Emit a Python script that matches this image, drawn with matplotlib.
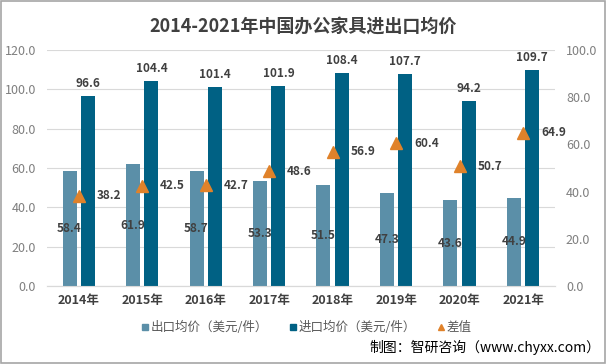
import numpy as np
import matplotlib.pyplot as plt
from matplotlib.patches import Rectangle
from matplotlib.lines import Line2D

plt.rcParams['font.family'] = ['Noto Sans CJK SC', 'DejaVu Sans']

years = ['2014年', '2015年', '2016年', '2017年', '2018年', '2019年', '2020年', '2021年']
export_price = [58.4, 61.9, 58.7, 53.3, 51.5, 47.3, 43.6, 44.9]
import_price = [96.6, 104.4, 101.4, 101.9, 108.4, 107.7, 94.2, 109.7]
diff = [38.2, 42.5, 42.7, 48.6, 56.9, 60.4, 50.7, 64.9]

c_exp = '#5b8fa8'
c_imp = '#006184'
c_diff = '#e0822a'
txt = '#404040'
tick_c = '#7f7f7f'

fig = plt.figure(figsize=(6.06, 3.64), dpi=100)
ax = fig.add_axes([0.0776, 0.2143, 0.838, 0.6483])
ax2 = ax.twinx()

x = np.arange(len(years))
w = 0.22
off = 0.145
ax.bar(x - off, export_price, w, color=c_exp, zorder=3)
ax.bar(x + off, import_price, w, color=c_imp, zorder=3)
ax2.plot(x, diff, linestyle='none', marker='^', markersize=9, color=c_diff, zorder=4)

for xi, v in zip(x, export_price):
    ax.text(xi - off, v / 2, f'{v:.1f}', ha='center', va='center', fontsize=8.5,
            color=txt, fontweight='bold', zorder=5)
for xi, v in zip(x, import_price):
    ax.text(xi + off, v + 3, f'{v:.1f}', ha='center', va='bottom', fontsize=8.5,
            color=txt, fontweight='bold', zorder=5)
for xi, v in zip(x, diff):
    ax2.text(xi + 0.28, v, f'{v:.1f}', ha='left', va='center', fontsize=8.5,
             color=txt, fontweight='bold', zorder=5)

ax.set_xlim(-0.5, len(years) - 0.5)
ax.set_ylim(0, 120)
ax.set_yticks(np.arange(0, 121, 20))
ax.set_yticklabels([f'{t:.1f}' for t in np.arange(0, 121, 20)])
ax2.set_ylim(0, 100)
ax2.set_yticks(np.arange(0, 101, 20))
ax2.set_yticklabels([f'{t:.1f}' for t in np.arange(0, 101, 20)])
ax.set_xticks(x)
ax.set_xticklabels(years, fontsize=9, color=txt, fontweight='bold')

ax.grid(axis='y', color='#d9d9d9', linewidth=0.8, zorder=0)
for a in (ax, ax2):
    for s in ('top', 'left', 'right'):
        a.spines[s].set_visible(False)
    a.spines['bottom'].set_color('#d9d9d9')
    a.tick_params(length=0, labelsize=9, labelcolor=tick_c)
ax.tick_params(axis='x', pad=6, labelcolor=txt)
ax.tick_params(axis='y', pad=8)
ax2.tick_params(axis='y', pad=8)

fig.text(0.5, 0.925, '2014-2021年中国办公家具进出口均价', ha='center', va='center',
         fontsize=13, fontweight='bold', color=txt)

handles = [
    Line2D([], [], linestyle='none', marker='s', markersize=5, color=c_exp),
    Line2D([], [], linestyle='none', marker='s', markersize=5, color=c_imp),
    Line2D([], [], linestyle='none', marker='^', markersize=5, color=c_diff),
]
labels = ['出口均价（美元/件）', '进口均价（美元/件）', '差值']
fig.legend(handles, labels, loc='center', bbox_to_anchor=(0.505, 0.1), ncol=3,
           frameon=False, fontsize=9, labelcolor='#595959', handletextpad=0.05,
           columnspacing=1.6, handlelength=0.8)

fig.text(0.99, 0.045, '制图：智研咨询（www.chyxx.com）', ha='right', va='center',
         fontsize=10, color='#000000')

fig.patches.append(Rectangle((0.001, 0.002), 0.997, 0.995, transform=fig.transFigure,
                             fill=False, edgecolor='#a6a6a6', linewidth=1.2))

fig.savefig('out.png', dpi=100)
